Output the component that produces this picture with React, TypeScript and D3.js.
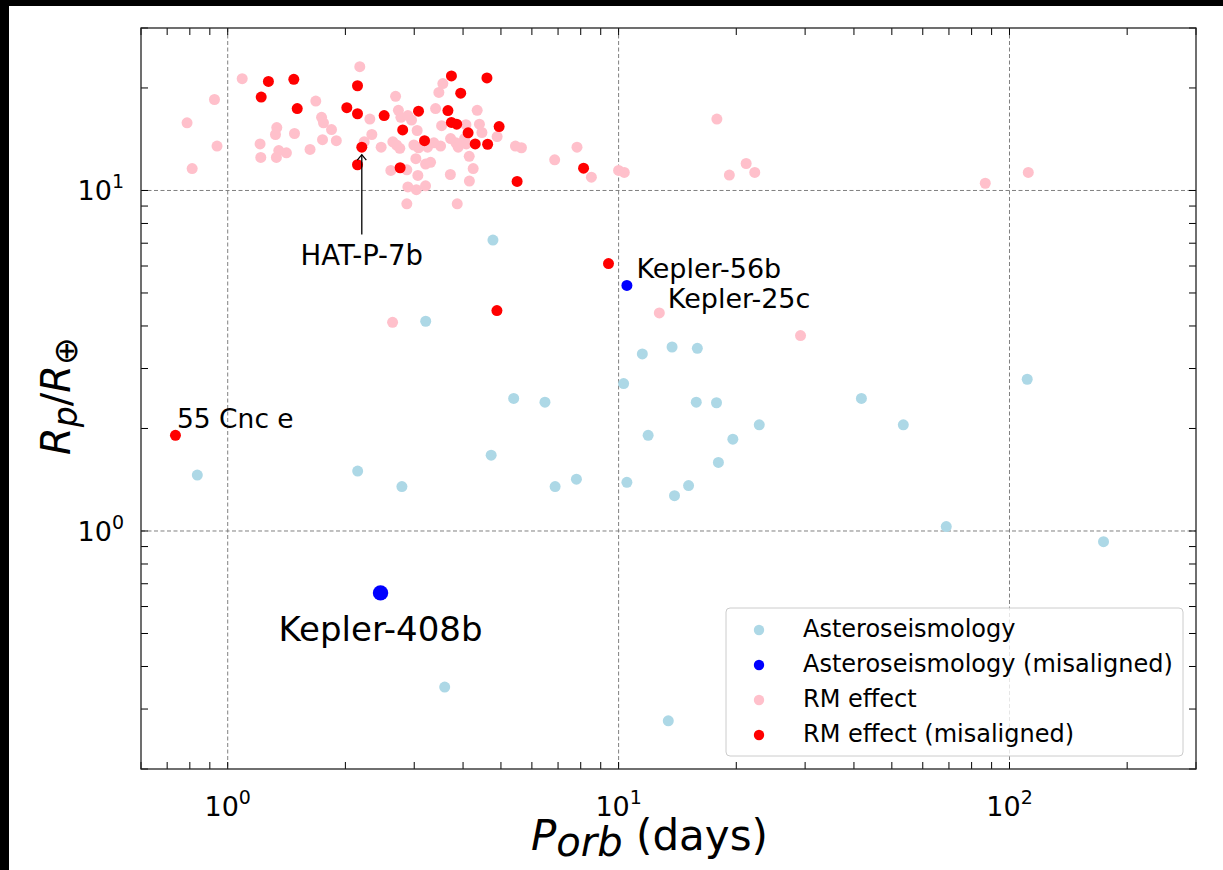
import React from "react";
import * as d3 from "d3";

// ---- data: [P_orb (days), Rp/R_earth] ----
const asteroseismology: [number, number][] = [
  [4.77, 7.15], [3.21, 4.13], [11.5, 3.31], [13.7, 3.47], [15.9, 3.44], [10.3, 2.71],
  [5.39, 2.45], [6.48, 2.39], [15.8, 2.39], [17.8, 2.38], [11.9, 1.91], [19.6, 1.86],
  [4.72, 1.67], [18.0, 1.59], [2.15, 1.5], [2.79, 1.35], [6.88, 1.35], [7.8, 1.42],
  [10.5, 1.39], [13.9, 1.27], [15.1, 1.36], [0.836, 1.46], [41.8, 2.45], [111, 2.79],
  [22.9, 2.05], [53.5, 2.05], [68.9, 1.03], [174, 0.93], [3.59, 0.348], [13.4, 0.277],
];
const asteroMisaligned: [number, number][] = [[10.5, 5.26], [2.46, 0.658]];
const asteroMisalignedSize = [1, 1.4];

const rmEffect: [number, number][] = [
  [0.787, 15.8], [0.811, 11.6], [0.925, 18.5], [0.939, 13.5], [1.089, 21.3], [1.68, 18.3],
  [1.738, 16.4], [1.758, 15.8], [1.843, 15.1], [1.896, 14.0], [1.748, 14.1], [1.335, 15.3],
  [1.325, 14.6], [1.482, 14.7], [1.21, 13.7], [1.215, 12.5], [1.351, 13.1], [1.332, 12.5],
  [1.413, 12.9], [1.624, 13.2], [2.177, 23.1], [2.31, 16.2], [2.337, 14.6], [2.234, 13.9],
  [2.469, 13.4], [2.688, 18.9], [2.733, 17.2], [2.773, 16.4], [2.89, 16.6], [2.953, 16.1],
  [3.052, 15.0], [2.645, 13.9], [2.703, 13.6], [2.756, 13.3], [2.994, 13.6], [3.368, 13.8],
  [3.504, 13.5], [3.029, 12.4], [3.207, 11.95], [3.303, 12.1], [2.614, 11.45], [2.872, 11.5],
  [3.065, 11.07], [2.89, 10.24], [3.038, 10.05], [3.207, 10.32], [2.872, 9.14], [3.402, 17.4],
  [3.469, 19.4], [3.551, 20.6], [3.525, 15.5], [3.717, 14.2], [3.835, 13.8], [3.887, 13.4],
  [3.712, 11.14], [3.865, 9.14], [4.347, 17.2], [4.068, 15.6], [4.405, 15.65], [4.47, 14.8],
  [4.036, 14.2], [4.889, 14.4], [4.148, 12.6], [4.246, 11.6], [4.152, 10.66], [5.445, 13.5],
  [5.642, 13.35], [6.862, 12.3], [7.826, 13.4], [8.518, 10.94], [10.0, 11.45], [10.34, 11.3],
  [17.84, 16.2], [21.2, 12.0], [19.2, 11.1], [22.3, 11.3], [86.7, 10.5], [111.7, 11.3],
  [2.641, 4.1], [12.71, 4.37], [29.2, 3.75], [3.077, 13.35], [3.245, 13.4], [4.076, 13.7],
];
const rmMisaligned: [number, number][] = [
  [1.271, 20.9], [1.476, 21.2], [1.218, 18.8], [1.506, 17.4], [2.148, 20.3], [2.017, 17.5],
  [2.148, 16.8], [2.513, 16.6], [2.203, 13.4], [2.148, 11.9], [2.803, 15.06], [3.077, 17.1],
  [3.188, 14.0], [2.761, 11.66], [3.735, 21.7], [3.945, 19.3], [3.659, 17.16], [3.735, 15.84],
  [3.853, 15.65], [4.121, 14.77], [4.297, 13.7], [4.623, 13.67], [4.947, 15.4], [4.604, 21.4],
  [5.5, 10.63], [8.135, 11.63], [9.422, 6.1], [4.883, 4.44], [0.735, 1.91],
];

const legendLabels = [
  "Asteroseismology",
  "Asteroseismology (misaligned)",
  "RM effect",
  "RM effect (misaligned)",
];
const colors = ["#add8e6", "#0000ff", "#ffc0cb", "#ff0000"];

const xMajor = [1, 10, 100];
const xMinor = [0.6, 0.7, 0.8, 0.9, 2, 3, 4, 5, 6, 7, 8, 9, 20, 30, 40, 50, 60, 70, 80, 90, 200, 300];
const yMajor = [1, 10];
const yMinor = [0.2, 0.3, 0.4, 0.5, 0.6, 0.7, 0.8, 0.9, 2, 3, 4, 5, 6, 7, 8, 9, 20, 30];
const xExp = ["0", "1", "2"];
const yExp = ["0", "1"];

// labels: text, anchor point (data), offset
const labels = [
  { text: "55 Cnc e", at: [0.735, 1.91], dx: 1.5, dy: -7, size: 26.5, anchor: "start" },
  { text: "Kepler-56b", at: [10.5, 5.26], dx: 9.5, dy: -7, size: 27, anchor: "start" },
  { text: "Kepler-25c", at: [12.71, 4.37], dx: 8.5, dy: -5, size: 27, anchor: "start" },
  { text: "Kepler-408b", at: [2.46, 0.658], dx: 0, dy: 48, size: 34, anchor: "middle" },
];
const hatLabel = { text: "HAT-P-7b", target: [2.203, 13.4], textAt: [2.2, 6.06] };

const FONT = "'DejaVu Sans', sans-serif";

export default function App() {
  const W = 1223, H = 870;
  const L = 141, R = 1196, T = 28, B = 769;
  const x = d3.scaleLog().domain([0.6, 300]).range([L, R]);
  const y = d3.scaleLog().domain([0.2, 30]).range([B, T]);
  const tick = 7;
  const r = 5.5;

  const series = [asteroseismology, asteroMisaligned, rmEffect, rmMisaligned];

  const hx = x(hatLabel.target[0]);
  const hy = y(hatLabel.target[1]);
  const tb = y(hatLabel.textAt[1]);

  return (
    <svg width={W} height={H} style={{ position: "fixed", left: 0, top: 0 }} fontFamily={FONT}>
      <rect x={0} y={0} width={W} height={H} fill="#000" />
      <rect x={9} y={6} width={W - 9} height={H - 6} fill="#fff" />

      {/* grid */}
      {xMajor.map((v) => (
        <line key={"gx" + v} x1={x(v)} x2={x(v)} y1={T} y2={B} stroke="#808080" strokeWidth={1} strokeDasharray="4,2.5" />
      ))}
      {yMajor.map((v) => (
        <line key={"gy" + v} x1={L} x2={R} y1={y(v)} y2={y(v)} stroke="#808080" strokeWidth={1} strokeDasharray="4,2.5" />
      ))}

      {/* points */}
      {series.map((s, si) =>
        s.map((d, i) => (
          <circle
            key={si + "-" + i}
            cx={x(d[0])}
            cy={y(d[1])}
            r={si === 1 ? r * asteroMisalignedSize[i] : r}
            fill={colors[si]}
          />
        ))
      )}

      {/* ticks */}
      {[...xMajor, ...xMinor].map((v) => (
        <g key={"xt" + v} stroke="#000" strokeWidth={1}>
          <line x1={x(v)} x2={x(v)} y1={B} y2={B - tick} />
          <line x1={x(v)} x2={x(v)} y1={T} y2={T + tick} />
        </g>
      ))}
      {[...yMajor, ...yMinor].map((v) => (
        <g key={"yt" + v} stroke="#000" strokeWidth={1}>
          <line x1={L} x2={L + tick} y1={y(v)} y2={y(v)} />
          <line x1={R} x2={R - tick} y1={y(v)} y2={y(v)} />
        </g>
      ))}

      {/* spines */}
      <rect x={L} y={T} width={R - L} height={B - T} fill="none" stroke="#222" strokeWidth={1.3} />

      {/* tick labels */}
      {xMajor.map((v, i) => (
        <text key={"xl" + v} x={x(v)} y={B + 47} textAnchor="middle" fontSize={27}>
          10<tspan dy={-12} fontSize={19}>{xExp[i]}</tspan>
        </text>
      ))}
      {yMajor.map((v, i) => (
        <text key={"yl" + v} x={L - 17} y={y(v) + 10} textAnchor="end" fontSize={27}>
          10<tspan dy={-12} fontSize={19}>{yExp[i]}</tspan>
        </text>
      ))}

      {/* axis labels */}
      <text x={531} y={850} fontSize={42}>
        <tspan fontStyle="italic">P</tspan>
        <tspan fontStyle="italic" fontSize={40} dy={6}>orb</tspan>
        <tspan dy={-6}>{" (days)"}</tspan>
      </text>
      <text transform={`translate(70, 455) rotate(-90)`} fontSize={40}>
        <tspan fontStyle="italic">R</tspan>
        <tspan fontStyle="italic" fontSize={33} dy={7}>p</tspan>
        <tspan dy={-7}>/</tspan>
        <tspan fontStyle="italic">R</tspan>
        <tspan fontSize={33} dy={7}>⊕</tspan>
      </text>

      {/* annotations */}
      {labels.map((l) => (
        <text
          key={l.text}
          x={x(l.at[0]) + l.dx}
          y={y(l.at[1]) + l.dy}
          fontSize={l.size}
          textAnchor={l.anchor as any}
        >
          {l.text}
        </text>
      ))}
      <text x={hx} y={tb} fontSize={27.5} textAnchor="middle">{hatLabel.text}</text>
      <g stroke="#000" strokeWidth={1.3} fill="none">
        <line x1={hx} x2={hx} y1={tb - 30} y2={hy + 7.5} />
        <polyline points={`${hx - 4.5},${hy + 13} ${hx},${hy + 7.5} ${hx + 4.5},${hy + 13}`} />
      </g>

      {/* legend */}
      <rect x={726} y={608} width={457} height={148} rx={4} fill="#fff" fillOpacity={0.8} stroke="#cccccc" strokeWidth={1} />
      {legendLabels.map((lab, i) => (
        <g key={lab}>
          <circle cx={759} cy={630 + i * 35} r={5.2} fill={colors[i]} />
          <text x={803} y={630 + i * 35 + 7} fontSize={24}>{lab}</text>
        </g>
      ))}
    </svg>
  );
}
